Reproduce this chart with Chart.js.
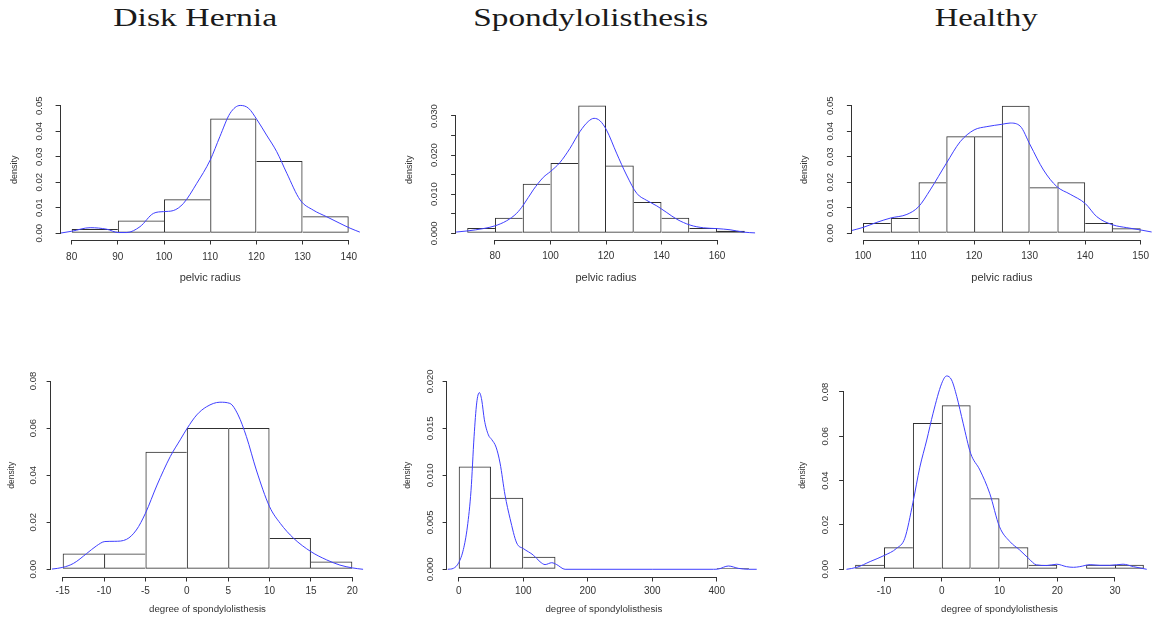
<!DOCTYPE html>
<html>
<head>
<meta charset="utf-8">
<script src="https://cdn.jsdelivr.net/npm/chart.js@4/dist/chart.umd.min.js"></script>
<style>
  html, body { margin: 0; padding: 0; background: #fff; }
  #page { position: relative; width: 1156px; height: 622px; overflow: hidden; background: #fff; }
  #page canvas { position: absolute; }
  .ttl { position: absolute; top: 5px; font-family: "Liberation Serif", "Times New Roman", serif;
         font-size: 26px; line-height: 26px; color: #1a1a1a; white-space: nowrap; transform-origin: center top; }
</style>
</head>
<body>
<div id="page"></div>
<script>
const SANS = '"Liberation Sans", Arial, Helvetica, sans-serif';

// ---------- Disk Hernia: pelvic radius ----------
const herniaRadiusBreaks = [80, 90, 100, 110, 120, 130, 140];
const herniaRadiusDensity = [0.00167, 0.005, 0.01333, 0.045, 0.02833, 0.00667];
const herniaRadiusCurveX = [77.3, 80, 84, 87.6, 90.1, 91.9, 94.8, 97.7, 99.9, 102, 104.2, 107.1, 110, 112.1, 114.3, 116.5, 118.3, 120.1, 122.2, 124.4, 126.6, 129.5, 132.3, 135.2, 138.1, 140.3, 142.5];
const herniaRadiusCurveY = [0.0000, 0.0008, 0.0022, 0.0016, 0.0003, 0.0003, 0.0026, 0.0078, 0.0085, 0.0089, 0.0117, 0.0196, 0.0287, 0.0379, 0.0470, 0.0501, 0.0490, 0.0446, 0.0385, 0.0320, 0.0235, 0.0130, 0.0091, 0.0065, 0.0039, 0.0020, 0.0004];
const herniaRadiusXTicks = [80, 90, 100, 110, 120, 130, 140];
const herniaRadiusYTicks = [0, 0.01, 0.02, 0.03, 0.04, 0.05];
const herniaRadiusYLabels = ['0.00', '0.01', '0.02', '0.03', '0.04', '0.05'];

// ---------- Spondylolisthesis: pelvic radius ----------
const spondyRadiusBreaks = [70, 80, 90, 100, 110, 120, 130, 140, 150, 160, 170];
const spondyRadiusDensity = [0.00133, 0.004, 0.01267, 0.018, 0.03267, 0.01733, 0.008, 0.004, 0.00133, 0.00067];
const spondyRadiusCurveX = [65.8, 70, 75.8, 80, 84.2, 87.8, 90.2, 93.8, 97.4, 100, 103.4, 107, 110.6, 113.6, 115.7, 117.8, 120.2, 123.8, 127.4, 131.1, 134.7, 138.3, 141.9, 145.5, 150.3, 155.1, 159.9, 164.7, 169.5, 173.7];
const spondyRadiusCurveY = [0.0003, 0.0006, 0.0012, 0.0019, 0.0032, 0.0051, 0.0072, 0.0111, 0.0143, 0.0158, 0.0181, 0.0217, 0.0260, 0.0286, 0.0294, 0.0288, 0.0264, 0.0205, 0.0149, 0.0102, 0.0084, 0.0070, 0.0053, 0.0036, 0.0021, 0.0014, 0.0012, 0.0009, 0.0003, 0.0001];
const spondyRadiusXTicks = [80, 100, 120, 140, 160];
const spondyRadiusYTicks = [0, 0.005, 0.01, 0.015, 0.02, 0.025, 0.03];
const spondyRadiusYLabels = ['0.000', '', '0.010', '', '0.020', '', '0.030'];

// ---------- Healthy: pelvic radius ----------
const healthyRadiusBreaks = [100, 105, 110, 115, 120, 125, 130, 135, 140, 145, 150];
const healthyRadiusDensity = [0.004, 0.006, 0.02, 0.038, 0.038, 0.05, 0.018, 0.02, 0.004, 0.002];
const healthyRadiusCurveX = [97.8, 100, 102.5, 105, 107.9, 110, 112.1, 115, 117.5, 120, 122.3, 125, 126.5, 128.3, 130.1, 132.5, 134.9, 137.3, 140, 142.1, 145, 147.5, 150, 152];
const healthyRadiusCurveY = [0.0010, 0.0023, 0.0043, 0.0060, 0.0074, 0.0104, 0.0170, 0.0274, 0.0359, 0.0405, 0.0418, 0.0427, 0.0432, 0.0420, 0.0346, 0.0248, 0.0183, 0.0153, 0.0117, 0.0065, 0.0033, 0.0022, 0.0013, 0.0005];
const healthyRadiusXTicks = [100, 110, 120, 130, 140, 150];
const healthyRadiusYTicks = [0, 0.01, 0.02, 0.03, 0.04, 0.05];
const healthyRadiusYLabels = ['0.00', '0.01', '0.02', '0.03', '0.04', '0.05'];

// ---------- Disk Hernia: degree of spondylolisthesis ----------
const herniaDegreeBreaks = [-15, -10, -5, 0, 5, 10, 15, 20];
const herniaDegreeDensity = [0.00667, 0.00667, 0.05, 0.06, 0.06, 0.01333, 0.00333];
const herniaDegreeCurveX = [-16.3, -15, -13.7, -12.1, -10.9, -9.9, -8.7, -7.3, -6.1, -5, -3.6, -2, -0.8, 0.06, 1.2, 2.4, 4, 5.2, 6.2, 7.2, 8.4, 10, 11.3, 12.9, 15, 16.9, 18.5, 20, 21.3];
const herniaDegreeCurveY = [0.0001, 0.0008, 0.0025, 0.0067, 0.0100, 0.0118, 0.0119, 0.0127, 0.0167, 0.0238, 0.0358, 0.0479, 0.0550, 0.0600, 0.0656, 0.0691, 0.0710, 0.0705, 0.0656, 0.0564, 0.0422, 0.0266, 0.0195, 0.0132, 0.0075, 0.0040, 0.0018, 0.0006, 0.0000];
const herniaDegreeXTicks = [-15, -10, -5, 0, 5, 10, 15, 20];
const herniaDegreeYTicks = [0, 0.02, 0.04, 0.06, 0.08];
const herniaDegreeYLabels = ['0.00', '0.02', '0.04', '0.06', '0.08'];

// ---------- Spondylolisthesis: degree of spondylolisthesis ----------
const spondyDegreeBreaks = [0, 50, 100, 150, 200, 250, 300, 350, 400, 450];
const spondyDegreeDensity = [0.010933, 0.0076, 0.001333, 0, 0, 0, 0, 0, 0.000133];
const spondyDegreeCurveX = [-17, -8.3, 0, 7.2, 13.4, 19.1, 23.8, 27.9, 32, 35.7, 39.8, 46, 51.2, 57.9, 64.1, 71.8, 79.6, 89.9, 100.3, 115.8, 126.1, 133.9, 144.2, 151.9, 164.9, 203.6, 300, 395, 402.6, 418, 433.6, 449, 462];
const spondyDegreeCurveY = [0.0000, 0.0001, 0.0007, 0.0021, 0.0045, 0.0084, 0.0141, 0.0177, 0.0188, 0.0180, 0.0159, 0.0143, 0.0138, 0.0130, 0.0113, 0.0079, 0.0054, 0.0028, 0.0022, 0.0015, 0.0008, 0.0005, 0.0007, 0.0005, 0.0000, 0.0000, 0.0000, 0.0000, 0.00003, 0.00035, 0.0001, 0.0000, 0.0000];
const spondyDegreeXTicks = [0, 100, 200, 300, 400];
const spondyDegreeYTicks = [0, 0.005, 0.01, 0.015, 0.02];
const spondyDegreeYLabels = ['0.000', '0.005', '0.010', '0.015', '0.020'];

// ---------- Healthy: degree of spondylolisthesis ----------
const healthyDegreeBreaks = [-15, -10, -5, 0, 5, 10, 15, 20, 25, 30, 35];
const healthyDegreeDensity = [0.002, 0.01, 0.066, 0.074, 0.032, 0.01, 0.002, 0, 0.002, 0.002];
const healthyDegreeCurveX = [-16.5, -14.7, -12.4, -10, -7.8, -6.4, -5, -3.8, -2.6, -1.5, 0, 0.85, 1.7, 2.6, 3.7, 5, 6.6, 8.3, 10, 11.8, 13.5, 15, 16.4, 18.2, 19.9, 21.6, 22.8, 23.9, 25.7, 27.4, 29.1, 31.4, 33.2, 35.5];
const healthyDegreeCurveY = [0.0000, 0.0009, 0.0035, 0.0062, 0.0095, 0.0140, 0.0300, 0.0460, 0.0583, 0.0704, 0.0839, 0.0872, 0.0854, 0.0779, 0.0659, 0.0523, 0.0448, 0.0343, 0.0192, 0.0125, 0.0087, 0.0050, 0.0020, 0.0017, 0.0023, 0.0012, 0.0009, 0.0012, 0.0021, 0.0018, 0.0018, 0.0023, 0.0012, 0.0000];
const healthyDegreeXTicks = [-10, 0, 10, 20, 30];
const healthyDegreeYTicks = [0, 0.02, 0.04, 0.06, 0.08];
const healthyDegreeYLabels = ['0.00', '0.02', '0.04', '0.06', '0.08'];

const columnTitles = ['Disk Hernia', 'Spondylolisthesis', 'Healthy'];

// ---------- layout of the six panels ----------
const topFonts = { xt: 10, yt: 9.5, xl: 11, yl: 9 };
const botFonts = { xt: 10, yt: 9.5, xl: 9.7, yl: 8.5 };
const panels = [
  { breaks: herniaRadiusBreaks, density: herniaRadiusDensity, cx: herniaRadiusCurveX, cy: herniaRadiusCurveY,
    xTicks: herniaRadiusXTicks, yTicks: herniaRadiusYTicks, yLabels: herniaRadiusYLabels, xTitle: 'pelvic radius',
    xr: [77.6, 142.4], yr: [-0.00243, 0.05223], box: { x: 0, y: 60, w: 385, h: 240 },
    area: { l: 60.6, t: 100, r: 359.8, b: 239.5 }, tick: 5, yGap: 20.9, yTitleX: 14.7, xLabelY: 257.2, xTitleY: 277.5, f: topFonts },
  { breaks: spondyRadiusBreaks, density: spondyRadiusDensity, cx: spondyRadiusCurveX, cy: spondyRadiusCurveY,
    xTicks: spondyRadiusXTicks, yTicks: spondyRadiusYTicks, yLabels: spondyRadiusYLabels, xTitle: 'pelvic radius',
    xr: [66, 174], yr: [-0.00159, 0.03409], box: { x: 385, y: 60, w: 385, h: 240 },
    area: { l: 456.1, t: 100, r: 755.9, b: 239.5 }, tick: 5, yGap: 21.6, yTitleX: 409.2, xLabelY: 256.7, xTitleY: 277.5, f: topFonts },
  { breaks: healthyRadiusBreaks, density: healthyRadiusDensity, cx: healthyRadiusCurveX, cy: healthyRadiusCurveY,
    xTicks: healthyRadiusXTicks, yTicks: healthyRadiusYTicks, yLabels: healthyRadiusYLabels, xTitle: 'pelvic radius',
    xr: [98, 152], yr: [-0.00243, 0.05223], box: { x: 771, y: 60, w: 385, h: 240 },
    area: { l: 851.9, t: 100, r: 1151.8, b: 239.5 }, tick: 5, yGap: 21.4, yTitleX: 805, xLabelY: 256.7, xTitleY: 277.5, f: topFonts },
  { breaks: herniaDegreeBreaks, density: herniaDegreeDensity, cx: herniaDegreeCurveX, cy: herniaDegreeCurveY,
    xTicks: herniaDegreeXTicks, yTicks: herniaDegreeYTicks, yLabels: herniaDegreeYLabels, xTitle: 'degree of spondylolisthesis',
    xr: [-16.4, 21.4], yr: [-0.00327, 0.0832], box: { x: 0, y: 340, w: 385, h: 282 },
    area: { l: 51.1, t: 373.5, r: 363.9, b: 577 }, tick: 4.5, yGap: 17.8, yTitleX: 11.7, xLabelY: 591.7, xTitleY: 609, f: botFonts },
  { breaks: spondyDegreeBreaks, density: spondyDegreeDensity, cx: spondyDegreeCurveX, cy: spondyDegreeCurveY,
    xTicks: spondyDegreeXTicks, yTicks: spondyDegreeYTicks, yLabels: spondyDegreeYLabels, xTitle: 'degree of spondylolisthesis',
    xr: [-18, 468], yr: [-0.00082, 0.02083], box: { x: 385, y: 340, w: 385, h: 282 },
    area: { l: 447.1, t: 373.5, r: 760.6, b: 577 }, tick: 4.5, yGap: 17.1, yTitleX: 407.5, xLabelY: 591.7, xTitleY: 609, f: botFonts },
  { breaks: healthyDegreeBreaks, density: healthyDegreeDensity, cx: healthyDegreeCurveX, cy: healthyDegreeCurveY,
    xTicks: healthyDegreeXTicks, yTicks: healthyDegreeYTicks, yLabels: healthyDegreeYLabels, xTitle: 'degree of spondylolisthesis',
    xr: [-17, 37], yr: [-0.00347, 0.0883], box: { x: 771, y: 340, w: 385, h: 282 },
    area: { l: 843.6, t: 373.5, r: 1155.4, b: 577 }, tick: 4.5, yGap: 18.6, yTitleX: 802.5, xLabelY: 591.7, xTitleY: 609, f: botFonts }
];
const titleSpots = [{ cx: 195, w: 164 }, { cx: 590.5, w: 235 }, { cx: 986.5, w: 103 }];

const page = document.getElementById('page');
const mctx = document.createElement('canvas').getContext('2d');
function textWidth(t, size) { mctx.font = size + 'px ' + SANS; return mctx.measureText(t).width; }

// R-style axis lines: only from the first to the last tick
const axisLines = {
  id: 'axisLines',
  afterDraw(chart) {
    const { ctx, chartArea: a, scales: { x, y } } = chart;
    const xs = x.ticks.map(t => x.getPixelForValue(t.value));
    const ys = y.ticks.map(t => y.getPixelForValue(t.value));
    ctx.save();
    ctx.strokeStyle = '#333';
    ctx.lineWidth = 1;
    ctx.beginPath();
    const yb = Math.round(a.bottom) + 0.5;
    ctx.moveTo(Math.round(xs[0] - 0.5), yb);
    ctx.lineTo(Math.round(xs[xs.length - 1] - 0.5) + 1, yb);
    const xl = Math.round(a.left) - 0.5;
    ctx.moveTo(xl, Math.round(ys[0] - 0.5) + 1);
    ctx.lineTo(xl, Math.round(ys[ys.length - 1] - 0.5));
    ctx.stroke();
    ctx.restore();
  }
};

// Each shared bin edge is outlined once, by the taller of the two neighbouring bars
function binBorder(dens) {
  return ctx => {
    const i = ctx.dataIndex, h = dens[i];
    return {
      top: 1, bottom: 1,
      left: (i === 0 || dens[i - 1] <= h) ? 1 : 0,
      right: (i === dens.length - 1 || dens[i + 1] < h) ? 1 : 0
    };
  };
}

function makePanel(p) {
  const b = p.box, a = p.area;
  const cv = document.createElement('canvas');
  cv.width = b.w; cv.height = b.h;
  cv.style.left = b.x + 'px'; cv.style.top = b.y + 'px';
  cv.style.width = b.w + 'px'; cv.style.height = b.h + 'px';
  page.appendChild(cv);

  const yAxisW = a.l - b.x;
  const xAxisH = b.y + b.h - a.b;
  const centers = p.breaks.slice(0, -1).map((v, i) => (v + p.breaks[i + 1]) / 2);
  const widest = Math.max(...p.yLabels.map(t => textWidth(t, p.f.yt)));
  const yPad = p.yGap - p.tick - widest / 2;
  const xPad = (p.xLabelY - a.b) - p.tick - p.f.xt * 1.2 / 2;
  const yTitlePad = p.yTitleX - b.x - p.f.yl * 1.2 / 2;
  const xTitlePad = (b.y + b.h) - p.xTitleY - p.f.xl * 1.2 / 2;

  new Chart(cv, {
    type: 'bar',
    data: {
      datasets: [
        { type: 'line', data: p.cx.map((x, i) => ({ x, y: p.cy[i] })),
          borderColor: '#3f3fff', borderWidth: 1, pointRadius: 0, fill: false,
          cubicInterpolationMode: 'monotone', order: 0 },
        { type: 'bar', data: centers.map((x, i) => ({ x, y: p.density[i] })),
          backgroundColor: 'rgba(255,255,255,0)', borderColor: '#303030', borderWidth: binBorder(p.density),
          borderSkipped: false, inflateAmount: 0, barPercentage: 1, categoryPercentage: 1, order: 1 }
      ]
    },
    options: {
      responsive: false, animation: false, devicePixelRatio: 1,
      layout: { padding: { left: 0, top: a.t - b.y, right: b.x + b.w - a.r, bottom: 0 } },
      plugins: { legend: { display: false }, tooltip: { enabled: false } },
      scales: {
        x: {
          type: 'linear', position: 'bottom', min: p.xr[0], max: p.xr[1], offset: false,
          afterBuildTicks: s => { s.ticks = p.xTicks.map(v => ({ value: v })); },
          afterFit: s => { s.height = xAxisH; s.paddingLeft = 0; s.paddingRight = 0; },
          grid: { display: true, drawOnChartArea: false, drawTicks: true, tickLength: p.tick, tickColor: '#333', offset: false },
          border: { display: false },
          ticks: { autoSkip: false, maxRotation: 0, minRotation: 0, padding: xPad, color: '#333',
                   font: { family: SANS, size: p.f.xt }, callback: (v, i) => String(p.xTicks[i]) },
          title: { display: true, text: p.xTitle, color: '#333', font: { family: SANS, size: p.f.xl },
                   padding: { top: 0, bottom: xTitlePad } }
        },
        y: {
          type: 'linear', position: 'left', min: p.yr[0], max: p.yr[1], beginAtZero: false,
          afterBuildTicks: s => { s.ticks = p.yTicks.map(v => ({ value: v })); },
          afterFit: s => { s.width = yAxisW; s.paddingTop = 0; s.paddingBottom = 0; },
          grid: { display: true, drawOnChartArea: false, drawTicks: true, tickLength: p.tick, tickColor: '#333' },
          border: { display: false },
          ticks: { autoSkip: false, minRotation: 90, maxRotation: 90, crossAlign: 'center', padding: yPad, color: '#333',
                   font: { family: SANS, size: p.f.yt }, callback: (v, i) => p.yLabels[i] },
          title: { display: true, text: 'density', color: '#333', font: { family: SANS, size: p.f.yl },
                   padding: { top: yTitlePad, bottom: 0 } }
        }
      }
    },
    plugins: [axisLines]
  });
}

panels.forEach(makePanel);

columnTitles.forEach((t, i) => {
  const d = document.createElement('div');
  d.className = 'ttl';
  d.textContent = t;
  page.appendChild(d);
  const nw = d.getBoundingClientRect().width;
  d.style.left = (titleSpots[i].cx - nw / 2) + 'px';
  d.style.transform = 'scaleX(' + (titleSpots[i].w / nw) + ')';
});
</script>
</body>
</html>
